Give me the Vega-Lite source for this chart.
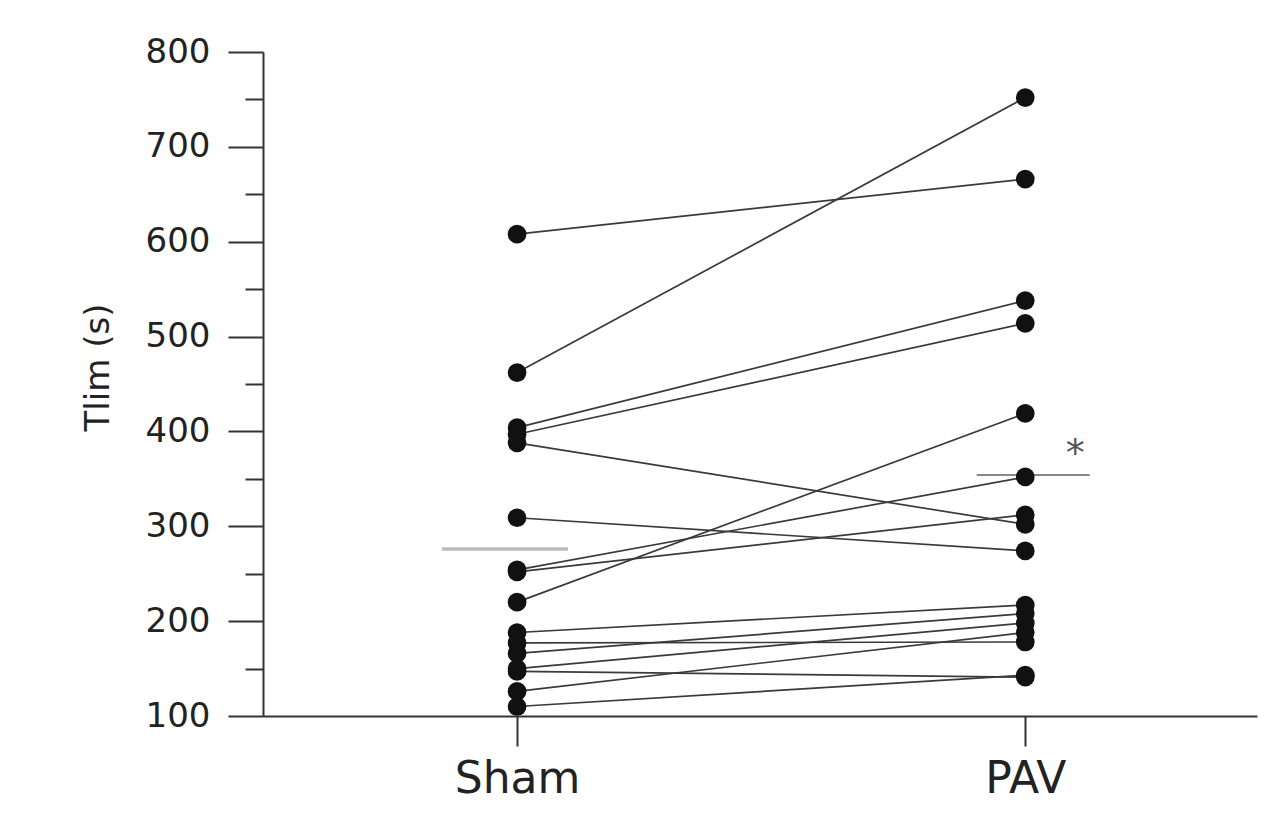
{
  "$schema": "https://vega.github.io/schema/vega-lite/v6.json",
  "autosize": "none",
  "width": 994,
  "height": 664,
  "padding": {"left": 263, "top": 52, "right": 30, "bottom": 99},
  "background": "white",
  "config": {"view": {"stroke": null}, "font": "DejaVu Sans"},
  "datasets": {
    "subjects": [
      {"id": 1, "group": "Sham", "tlim": 608}, {"id": 1, "group": "PAV", "tlim": 666},
      {"id": 2, "group": "Sham", "tlim": 462}, {"id": 2, "group": "PAV", "tlim": 752},
      {"id": 3, "group": "Sham", "tlim": 404}, {"id": 3, "group": "PAV", "tlim": 538},
      {"id": 4, "group": "Sham", "tlim": 397}, {"id": 4, "group": "PAV", "tlim": 514},
      {"id": 5, "group": "Sham", "tlim": 388}, {"id": 5, "group": "PAV", "tlim": 302},
      {"id": 6, "group": "Sham", "tlim": 309}, {"id": 6, "group": "PAV", "tlim": 274},
      {"id": 7, "group": "Sham", "tlim": 254}, {"id": 7, "group": "PAV", "tlim": 352},
      {"id": 8, "group": "Sham", "tlim": 252}, {"id": 8, "group": "PAV", "tlim": 312},
      {"id": 9, "group": "Sham", "tlim": 220}, {"id": 9, "group": "PAV", "tlim": 419},
      {"id": 10, "group": "Sham", "tlim": 188}, {"id": 10, "group": "PAV", "tlim": 217},
      {"id": 11, "group": "Sham", "tlim": 177}, {"id": 11, "group": "PAV", "tlim": 178},
      {"id": 12, "group": "Sham", "tlim": 166}, {"id": 12, "group": "PAV", "tlim": 208},
      {"id": 13, "group": "Sham", "tlim": 150}, {"id": 13, "group": "PAV", "tlim": 198},
      {"id": 14, "group": "Sham", "tlim": 147}, {"id": 14, "group": "PAV", "tlim": 141},
      {"id": 15, "group": "Sham", "tlim": 126}, {"id": 15, "group": "PAV", "tlim": 188},
      {"id": 16, "group": "Sham", "tlim": 110}, {"id": 16, "group": "PAV", "tlim": 143}
    ],
    "means": [
      {"group": "Sham", "mean": 276},
      {"group": "PAV", "mean": 354}
    ],
    "notes": [
      {"group": "PAV", "y": 364, "label": "*"}
    ]
  },
  "encoding": {
    "x": {
      "field": "group",
      "type": "nominal",
      "sort": ["Sham", "PAV"],
      "scale": {"type": "point", "domain": ["Sham", "PAV"], "padding": 0.478, "align": 0.523},
      "axis": {
        "title": null,
        "labelAngle": 0,
        "labelFontSize": 44,
        "labelColor": "#222",
        "labelPadding": 11,
        "tickSize": 30,
        "tickWidth": 2,
        "tickColor": "#333",
        "domainColor": "#333",
        "domainWidth": 2
      }
    }
  },
  "layer": [
    {
      "data": {"name": "means"},
      "transform": [{"filter": "datum.group === 'Sham'"}],
      "mark": {"type": "tick", "orient": "horizontal", "size": 126, "thickness": 3.5, "color": "#9f9f9f", "xOffset": -12},
      "encoding": {
        "y": {"field": "mean", "type": "quantitative"}
      }
    },
    {
      "data": {"name": "means"},
      "transform": [{"filter": "datum.group === 'PAV'"}],
      "mark": {"type": "tick", "orient": "horizontal", "size": 113, "thickness": 2, "color": "#555", "xOffset": 8},
      "encoding": {
        "y": {"field": "mean", "type": "quantitative"}
      }
    },
    {
      "data": {"name": "subjects"},
      "mark": {"type": "line", "color": "#3a3a3a", "strokeWidth": 1.7},
      "encoding": {
        "y": {
          "field": "tlim",
          "type": "quantitative",
          "scale": {"domain": [100, 800], "nice": false, "zero": false},
          "axis": {
            "title": "Tlim (s)",
            "titleFontSize": 34,
            "titleFontWeight": "normal",
            "titleColor": "#222",
            "titlePadding": 30,
            "titleY": 315,
            "values": [100, 150, 200, 250, 300, 350, 400, 450, 500, 550, 600, 650, 700, 750, 800],
            "labelExpr": "datum.value % 100 === 0 ? datum.label : ''",
            "labelFontSize": 34,
            "labelColor": "#222",
            "labelPadding": 18,
            "tickSize": {"condition": {"test": "datum.value % 100 === 0", "value": 35}, "value": 18},
            "tickWidth": 2,
            "tickColor": "#333",
            "domainColor": "#333",
            "domainWidth": 2,
            "grid": false
          }
        },
        "detail": {"field": "id", "type": "nominal"}
      }
    },
    {
      "data": {"name": "subjects"},
      "mark": {"type": "circle", "size": 350, "color": "#111", "opacity": 1},
      "encoding": {
        "y": {"field": "tlim", "type": "quantitative"}
      }
    },
    {
      "data": {"name": "notes"},
      "mark": {"type": "text", "fontSize": 38, "color": "#555", "dx": 50, "baseline": "alphabetic"},
      "encoding": {
        "y": {"field": "y", "type": "quantitative"},
        "text": {"field": "label"}
      }
    }
  ]
}
